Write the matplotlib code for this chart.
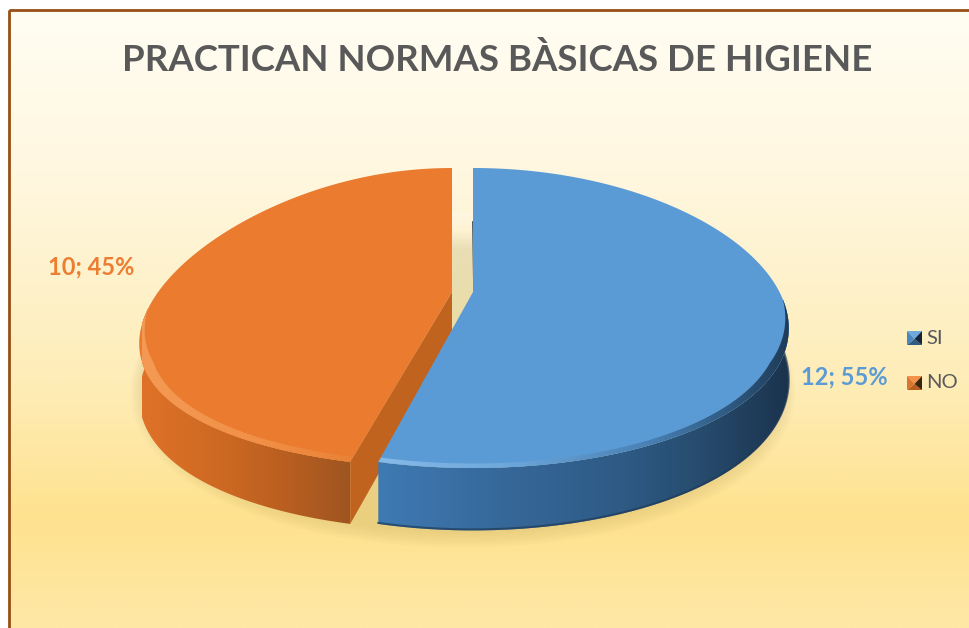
import numpy as np
import matplotlib
matplotlib.use("Agg")
import matplotlib.pyplot as plt
from matplotlib.colors import LinearSegmentedColormap as LSC
from matplotlib.patches import Polygon, Rectangle

title = "PRACTICAN NORMAS BÀSICAS DE HIGIENE"
labels = ["SI", "NO"]
values = [12, 10]
colors = ["#5B9BD5", "#ED7D31"]

plt.rcParams['font.family'] = ['Lato', 'DejaVu Sans']

fig = plt.figure(figsize=(9.7, 6.28), dpi=100)
ax = fig.add_axes([0, 0, 1, 1])
ax.set_axis_off()
ax.set_xlim(0, 970)
ax.set_ylim(628, 0)

mid_y = 318
apex_y = 292


def project(theta, cx, a, p, scale=1.0, drop=0.0):
  # pie plane to screen, near side drawn larger
  b = 150
  u = np.sin(theta)
  v = -np.cos(theta)
  x = cx + scale * a * u * (1 + p * v)
  y = mid_y + scale * b * v + drop * (1 + 0.2 * v)
  return np.column_stack([x, y])


def grad(poly, stops, extent, vertical=False, zorder=2):
  cmap = LSC.from_list("g", stops)
  g = np.linspace(0, 1, 256)
  g = g[:, None] if vertical else g[None, :]
  im = ax.imshow(g, cmap=cmap, extent=extent, aspect="auto", zorder=zorder, interpolation="bilinear")
  patch = Polygon(poly, closed=True, transform=ax.transData, fc="none", ec="none")
  ax.add_patch(patch)
  im.set_clip_path(patch)
  return im


# background and frame
grad([(10, 11), (970, 11), (970, 628), (10, 628)],
     [(0, "#FFFDF3"), (0.3, "#FFF6DC"), (0.6, "#FEEDB8"), (0.82, "#FEE28F"), (1, "#FEE8A6")],
     (10, 970, 628, 11), vertical=True, zorder=0)
ax.add_patch(Rectangle((9, 10), 970, 640, fc="none", ec="#964F14", lw=2, zorder=1))

ax.text(497, 60, title, fontsize=26.4, fontweight="bold", color="#595959", ha="center", va="center", zorder=6)

# slice angles from the values, clockwise from 12 o'clock
split = 2 * np.pi * values[0] / sum(values)
depth = 52
blue_cx, blue_a, blue_p = 473, 315, 0.07
orange_cx, orange_a, orange_p = 452, 308, 0.18

# ground shadow, front half only so it stays out of the gap
shadow_t = np.linspace(0.45 * np.pi, 1.55 * np.pi, 200)
for k in range(8):
  pts = project(shadow_t, 463, 318, 0.08, scale=1.0 + 0.006 * k, drop=depth + 2 + k)
  ax.add_patch(Polygon(pts, fc="#B59A50", ec="none", alpha=0.03, zorder=1.5))

# orange slice
t = np.linspace(split, 2 * np.pi, 200)
top = project(t, orange_cx, orange_a, orange_p)
t2 = np.linspace(split, 1.52 * np.pi, 120)
arc = project(t2, orange_cx, orange_a, orange_p)
low = project(t2, orange_cx, orange_a, orange_p, drop=depth)
grad(np.vstack([arc, low[::-1]]),
     [(0, "#9E5520"), (0.3, "#B85E20"), (0.6, "#CC6822"), (1, "#DF7228")],
     (352, 142, 628, 0), zorder=2)
ax.add_patch(Polygon(np.vstack([[(orange_cx, apex_y)], top]), fc="#EA7B2F", ec="none", zorder=3))
# rim tapers off toward the back
taper = np.clip((1.52 * np.pi - t2) / (0.12 * np.pi), 0, 1)
inner = project(t2, orange_cx, orange_a, orange_p, scale=1 - 0.035 * taper)
grad(np.vstack([arc, inner[::-1]]), [(0, "#E98236"), (0.5, "#F29148"), (1, "#F49A54")],
     (352, 142, 628, 0), zorder=3.2)
corner = project(np.array([split]), orange_cx, orange_a, orange_p)
corner_low = project(np.array([split]), orange_cx, orange_a, orange_p, drop=depth)
ax.add_patch(Polygon(np.vstack([[(orange_cx, apex_y)], corner, corner_low, [(orange_cx, apex_y + depth)]]),
                     fc="#C0631F", ec="none", zorder=3.5))

# shadow in the gap between the slices
grad([(452, 212), (473, 212), (473, 330), (452, 330)], [(0, "#FFF7E2"), (0.15, "#FFF3D3"), (0.32, "#E9DDB4"), (1, "#EBDDA6")],
     (452, 473, 330, 212), vertical=True, zorder=1.6)

# blue slice
t = np.linspace(0, split, 300)
top = project(t, blue_cx, blue_a, blue_p)
t2 = np.linspace(0.46 * np.pi, split, 200)
arc = project(t2, blue_cx, blue_a, blue_p)
low = project(t2, blue_cx, blue_a, blue_p, drop=depth)
grad(np.vstack([arc, low[::-1]]),
     [(0, "#3F7AB3"), (0.3, "#36689A"), (0.6, "#2E5A84"), (0.8, "#264A6C"), (1, "#1B334D")],
     (378, 790, 628, 0), zorder=4)
ax.plot(low[:, 0], low[:, 1] - 1, color="#1F3C5A", lw=1.5, alpha=0.7, zorder=4.1)
ax.plot([473, 474], [222, apex_y], color="#1E3A56", lw=1.2, zorder=4.2)
ax.add_patch(Polygon(np.vstack([[(blue_cx, apex_y)], top]), fc=colors[0], ec="none", zorder=5))
taper = np.clip((t2 - 0.46 * np.pi) / (0.14 * np.pi), 0, 1)
inner = project(t2, blue_cx, blue_a, blue_p, scale=1 - 0.03 * taper)
grad(np.vstack([arc, inner[::-1]]),
     [(0, "#86BAE8"), (0.3, "#6FA8DC"), (0.65, "#4A82B6"), (0.85, "#2F5A82"), (1, "#1F3B58")],
     (378, 790, 628, 0), zorder=5.2)

# data labels
pct = [round(100 * v / sum(values)) for v in values]
ax.text(844, 377, f"{values[0]}; {pct[0]}%", fontsize=17, fontweight="bold", color=colors[0], ha="center", va="center", zorder=6)
ax.text(91, 267, f"{values[1]}; {pct[1]}%", fontsize=17, fontweight="bold", color=colors[1], ha="center", va="center", zorder=6)

# legend, the small pyramid keys
legend_y = [338, 383]
legend_shades = [("#6FA8DC", "#2F5A82", "#13253A", "#4A86C0"), ("#F29148", "#B85E20", "#3A2410", "#D9752C")]
for name, y, sh in zip(labels, legend_y, legend_shades):
  x0, x1, y0, y1 = 907, 922, y - 7, y + 7
  cx, cy = (x0 + x1) / 2, (y0 + y1) / 2 + 1
  ax.add_patch(Polygon([(x0, y0), (x1, y0), (cx, cy)], fc=sh[0], ec="none", zorder=6))
  ax.add_patch(Polygon([(x0, y1), (x1, y1), (cx, cy)], fc=sh[1], ec="none", zorder=6))
  ax.add_patch(Polygon([(x1, y0), (x1, y1), (cx, cy)], fc=sh[2], ec="none", zorder=6))
  ax.add_patch(Polygon([(x0, y0), (x0, y1), (cx, cy)], fc=sh[3], ec="none", zorder=6))
  ax.text(926, y, name, fontsize=14.5, color="#595959", ha="left", va="center", zorder=6)

ax.set_xlim(0, 970)
ax.set_ylim(628, 0)
fig.savefig("out.png", dpi=100)
